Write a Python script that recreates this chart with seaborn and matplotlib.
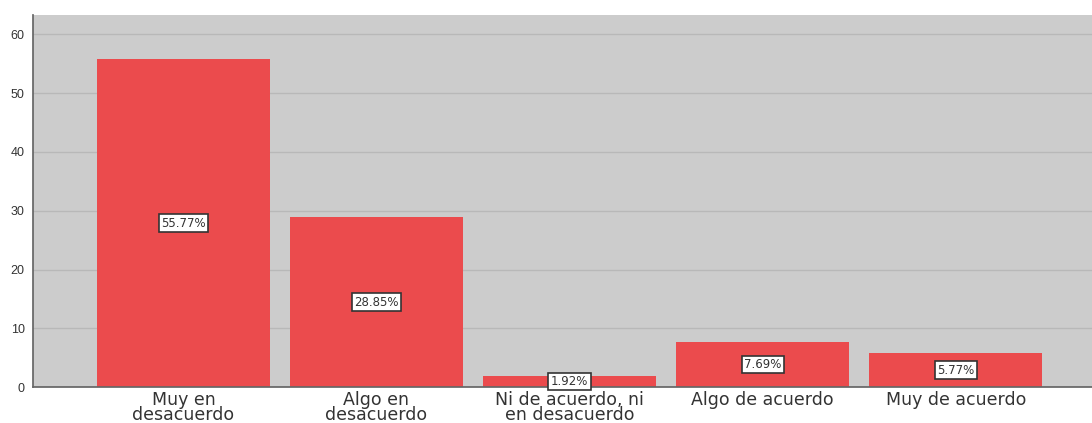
import matplotlib
matplotlib.use("Agg")
import matplotlib.pyplot as plt
import seaborn as sns
import pandas as pd

# data
categories = ["Muy en\ndesacuerdo", "Algo en\ndesacuerdo", "Ni de acuerdo, ni\nen desacuerdo",
              "Algo de acuerdo", "Muy de acuerdo"]
percentages = [55.77, 28.85, 1.92, 7.69, 5.77]
y_ticks = [0, 10, 20, 30, 40, 50, 60]

df = pd.DataFrame({"categoria": categories, "porcentaje": percentages})

sns.set_theme(style="white")
plt.rcParams["font.family"] = ["Liberation Sans", "DejaVu Sans"]

fig = plt.figure(figsize=(10.92, 4.23), dpi=100)
ax = fig.add_axes([0.0302, 0.085, 0.9698, 0.8795])
ax.set_facecolor("#cccccc")

sns.barplot(data=df, x="categoria", y="porcentaje", color="#eb4b4d", saturation=1,
            width=0.895, errorbar=None, linewidth=0, ax=ax, zorder=2)

ax.bar_label(ax.containers[0], labels=[f"{v:.2f}%" for v in percentages],
             label_type="center", fontsize=8.5, color="#333333",
             family=["DejaVu Sans"],
             bbox=dict(boxstyle="square,pad=0.2", facecolor="white",
                       edgecolor="#333333", linewidth=1.2))

ax.set_ylim(0, 63.3)
ax.set_xlim(-0.779, 4.706)
ax.set_yticks(y_ticks)
ax.yaxis.grid(True, color="#b8b8b8", linewidth=1, zorder=0)
ax.set_axisbelow(True)
ax.tick_params(axis="y", labelsize=9, length=0, pad=6, colors="#333333")
ax.tick_params(axis="x", labelsize=12.5, length=0, pad=3, colors="#333333")
for lbl in ax.get_xticklabels():
    lbl.set_linespacing(0.75)
    lbl.set_family(["DejaVu Sans"])
ax.set_xlabel("")
ax.set_ylabel("")

for side in ["top", "right"]:
    ax.spines[side].set_visible(False)
ax.spines["left"].set_color("#666666")
ax.spines["bottom"].set_color("#666666")

fig.savefig("out.png", dpi=100)
